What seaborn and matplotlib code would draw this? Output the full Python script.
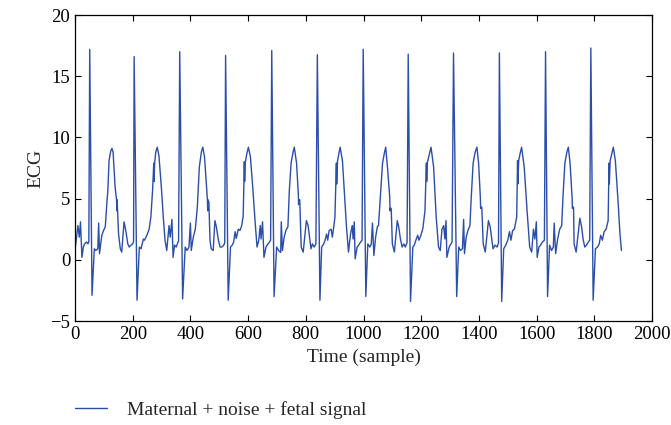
import matplotlib
matplotlib.use("Agg")
import matplotlib.pyplot as plt
import seaborn as sns
import pandas as pd

# polyline vertices, one line per beat
sample = [
    0, 10, 15, 19, 24, 29, 33, 40, 45, 48,
    51, 59, 67, 72, 79, 82, 85, 93, 99, 105, 110, 114, 118, 124, 128, 132, 139, 144, 145, 146, 151, 157, 162, 170, 176, 183, 188, 194, 200, 203,
    205, 215, 223, 229, 237, 241, 249, 257, 263, 269, 273, 274, 276, 280, 285, 291, 300, 306, 312, 318, 326, 330, 336, 340, 345, 351, 357, 359,
    363, 373, 382, 388, 395, 400, 403, 410, 417, 424, 431, 438, 443, 449, 456, 459, 460, 461, 464, 468, 472, 479, 485, 490, 497, 503, 509, 516, 519,
    522, 531, 539, 545, 550, 555, 559, 566, 572, 578, 583, 587, 588, 590, 595, 601, 608, 616, 624, 631, 637, 642, 645, 650, 655, 662, 669, 674, 678,
    682, 690, 699, 706, 713, 715, 719, 725, 731, 738, 743, 749, 756, 760, 768, 774, 775, 776, 779, 784, 791, 802, 808, 814, 818, 823, 829, 835,
    840, 849, 855, 862, 867, 872, 876, 881, 888, 892, 897, 901, 906, 907, 910, 919, 927, 934, 941, 948, 955, 961, 964, 968, 971, 978, 983, 990, 995,
    999, 1008, 1015, 1022, 1027, 1031, 1036, 1042, 1048, 1052, 1059, 1066, 1073, 1077, 1084, 1091, 1092, 1093, 1096, 1100, 1107, 1117, 1122, 1128, 1134, 1140, 1145, 1151,
    1155, 1163, 1171, 1176, 1183, 1188, 1192, 1199, 1206, 1213, 1218, 1219, 1221, 1226, 1234, 1243, 1252, 1260, 1266, 1272, 1278, 1282, 1286, 1289, 1297, 1303, 1307,
    1312, 1323, 1330, 1336, 1343, 1347, 1350, 1356, 1362, 1369, 1373, 1380, 1387, 1393, 1399, 1405, 1406, 1408, 1410, 1415, 1422, 1433, 1439, 1445, 1449, 1456, 1463, 1468,
    1471, 1479, 1486, 1493, 1500, 1506, 1511, 1517, 1523, 1531, 1534, 1535, 1538, 1543, 1548, 1557, 1567, 1576, 1583, 1589, 1594, 1599, 1602, 1608, 1614, 1620, 1627,
    1631, 1638, 1645, 1652, 1658, 1661, 1666, 1673, 1680, 1687, 1692, 1698, 1705, 1710, 1716, 1723, 1724, 1726, 1728, 1730, 1737, 1750, 1756, 1761, 1767, 1773, 1779, 1784,
    1788, 1796, 1804, 1811, 1817, 1822, 1828, 1834, 1841, 1848, 1851, 1852, 1855, 1860, 1866, 1873, 1882, 1889, 1894,
]
ecg = [
    0.76, 2.8, 1.85, 3.1, 0.2, 1.04, 1.3, 1.45, 1.3, 1.5,
    17.2, -2.9, 0.9, 0.76, 0.9, 3.0, 0.5, 2.0, 2.4, 2.7, 4.5, 5.7, 8.1, 8.9, 9.1, 8.8, 5.95, 4.9, 4.0, 4.9, 2.1, 0.9, 0.63, 3.1, 2.4, 1.3, 1.04, 1.2, 1.3, 1.5,
    16.6, -3.3, 1.04, 0.9, 1.7, 1.6, 2.0, 2.5, 3.5, 5.7, 7.9, 6.4, 7.9, 8.8, 9.2, 8.5, 5.7, 3.5, 1.6, 0.76, 2.8, 1.85, 3.3, 0.2, 1.2, 1.04, 1.45, 1.5,
    17.0, -3.2, 1.04, 0.76, 1.04, 3.0, 0.76, 1.85, 2.5, 4.3, 7.6, 8.8, 9.2, 8.4, 5.95, 4.9, 4.0, 4.9, 4.7, 1.6, 0.9, 0.76, 3.2, 2.7, 1.6, 1.04, 1.04, 1.2, 1.4,
    16.7, -3.3, 1.04, 1.2, 1.45, 2.3, 1.75, 2.5, 2.4, 2.8, 3.6, 8.0, 6.4, 7.9, 8.6, 9.2, 8.4, 5.95, 3.2, 1.04, 1.6, 2.8, 1.7, 3.1, 0.2, 1.04, 1.3, 1.45, 1.6,
    17.1, -3.0, 1.04, 0.76, 0.6, 3.1, 0.76, 1.85, 2.4, 2.7, 5.7, 7.9, 8.8, 9.2, 7.9, 5.4, 4.5, 4.9, 4.9, 1.04, 0.63, 3.2, 2.8, 1.7, 0.9, 1.3, 1.04, 1.3,
    16.75, -3.3, 1.04, 1.3, 1.6, 2.1, 1.6, 2.4, 2.5, 1.85, 2.7, 3.5, 7.9, 6.2, 8.1, 9.2, 8.1, 5.4, 2.7, 0.63, 2.1, 2.8, 1.7, 3.1, 0.08, 1.04, 1.2, 1.45, 1.6,
    17.2, -3.0, 1.3, 1.04, 1.3, 3.0, 0.35, 1.85, 2.7, 2.8, 5.4, 7.9, 8.8, 9.2, 7.3, 5.1, 4.0, 4.2, 4.2, 1.3, 0.63, 3.2, 2.7, 1.7, 1.04, 1.3, 1.04, 1.4,
    16.8, -3.4, 1.04, 1.2, 1.7, 2.0, 1.6, 2.0, 2.6, 4.0, 7.9, 6.4, 7.9, 8.4, 9.2, 7.6, 3.5, 1.04, 0.76, 2.5, 2.8, 1.7, 3.2, 0.2, 1.04, 1.3, 1.45,
    16.9, -3.0, 1.04, 0.76, 0.9, 3.3, 0.5, 1.85, 2.4, 2.8, 4.9, 7.9, 8.8, 9.2, 7.9, 5.1, 4.2, 4.3, 4.3, 1.3, 0.63, 3.2, 2.7, 1.6, 0.9, 1.2, 1.04, 1.4,
    16.9, -3.4, 0.9, 1.2, 1.6, 2.3, 1.6, 2.4, 2.5, 3.5, 8.1, 6.2, 8.1, 8.7, 9.2, 7.6, 4.0, 1.04, 0.63, 2.5, 1.7, 3.1, 0.2, 1.04, 1.2, 1.45, 1.6,
    17.0, -3.0, 1.2, 0.76, 1.04, 3.0, 0.5, 1.7, 2.5, 2.8, 5.4, 7.9, 8.8, 9.2, 7.9, 5.1, 4.2, 4.3, 4.3, 1.3, 0.63, 3.4, 2.7, 1.7, 1.04, 1.2, 1.45, 1.6,
    17.3, -3.3, 0.9, 1.04, 1.3, 2.0, 1.6, 2.3, 2.5, 3.2, 7.9, 6.2, 8.1, 8.6, 9.2, 8.1, 4.9, 2.1, 0.76,
]
assert len(sample) == len(ecg)

df = pd.DataFrame({"sample": sample, "ecg": ecg})

sns.set_style("ticks")
plt.rcParams["font.family"] = ["Liberation Serif", "DejaVu Serif"]

fig = plt.figure(figsize=(6.71, 4.25), dpi=100)
ax = fig.add_axes([75 / 671, 104 / 425, 577 / 671, 306 / 425])

sns.lineplot(data=df, x="sample", y="ecg", estimator=None, sort=False,
             color="#2b4ea8", linewidth=1.0,
             label="Maternal + noise + fetal signal", ax=ax)

ax.set_xlim(0, 2000)
ax.set_ylim(-5, 20)
ax.set_xticks(range(0, 2001, 200))
ax.set_yticks(range(-5, 21, 5))
ax.tick_params(direction="in", top=True, right=True, labelsize=13.5, length=4,
               width=0.8, colors="black")
for s in ax.spines.values():
    s.set_linewidth(0.9)
    s.set_color("black")
ax.set_xlabel("Time (sample)", fontsize=14)
ax.set_ylabel("ECG", fontsize=14)

ax.legend(loc="center left", bbox_to_anchor=(0.0, -0.29), frameon=False,
          fontsize=14, handlelength=1.65, borderpad=0, borderaxespad=0,
          handletextpad=1.0)

fig.savefig("out.png", dpi=100)
